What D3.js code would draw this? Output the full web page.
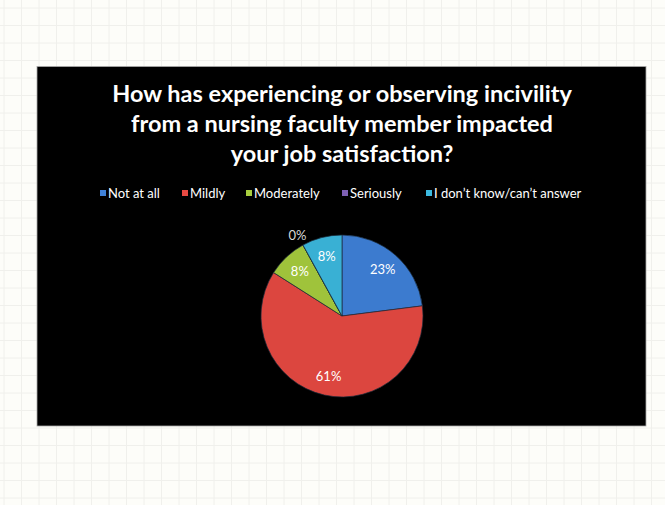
<!DOCTYPE html>
<html><head><meta charset="utf-8">
<script src="https://cdn.jsdelivr.net/npm/d3@7"></script>
<style>html,body{margin:0;padding:0;background:#fdfdf9;}svg{display:block;}</style>
</head><body>
<script>
const categories = ["Not at all", "Mildly", "Moderately", "Seriously", "I don\u2019t know/can\u2019t answer"];
const values = [23, 61, 8, 0, 8];
const valueLabels = ["23%", "61%", "8%", "0%", "8%"];
const colors = ["#3f82da", "#e84a42", "#a8ce3e", "#7e60b4", "#3cbae0"];
const titleLines = ["How has experiencing or observing incivility", "from a nursing faculty member impacted", "your job satisfaction?"];

const W = 665, H = 505;
const svg = d3.select("body").append("svg").attr("width", W).attr("height", H);

// grid paper background
const grid = svg.append("g");
d3.range(4, W, 17.5).forEach(x => grid.append("line").attr("x1", x).attr("x2", x).attr("y1", 0).attr("y2", H).attr("stroke", "#f0f0ec").attr("stroke-width", 1));
d3.range(8, H, 17.5).forEach(y => grid.append("line").attr("y1", y).attr("y2", y).attr("x1", 0).attr("x2", W).attr("stroke", "#f0f0ec").attr("stroke-width", 1));

// black slide
svg.append("rect").attr("x", 37).attr("y", 66.5).attr("width", 609).attr("height", 359.5)
  .attr("fill", "#000").attr("stroke", "#a8a8a8").attr("stroke-width", 0.8);

// title
const title = svg.append("text").attr("text-anchor", "middle").attr("fill", "#fff")
  .attr("font-family", "Lato, 'Open Sans', sans-serif").attr("font-weight", "bold").attr("font-size", 23.5);
titleLines.forEach((t, i) => title.append("tspan").attr("x", 342).attr("y", 102 + i * 30).text(t));

// legend
const legendX = [100, 182, 246, 342, 426];
const lg = svg.append("g").attr("font-family", "Lato, 'Open Sans', sans-serif").attr("font-size", 13).attr("fill", "#fff");
categories.forEach((c, i) => {
  lg.append("rect").attr("x", legendX[i]).attr("y", 190).attr("width", 6).attr("height", 6).attr("fill", colors[i]);
  lg.append("text").attr("x", legendX[i] + 8).attr("y", 197.5).text(c);
});

// pie
const cx = 342, cy = 316, r = 81;
const defs = svg.append("defs");
colors.forEach((col, i) => {
  const g = defs.append("radialGradient").attr("id", "g" + i).attr("gradientUnits", "userSpaceOnUse")
    .attr("cx", cx).attr("cy", cy - 25).attr("r", r * 1.2);
  g.append("stop").attr("offset", "0%").attr("stop-color", d3.color(col).brighter(0.1));
  g.append("stop").attr("offset", "88%").attr("stop-color", col);
  g.append("stop").attr("offset", "100%").attr("stop-color", d3.color(col).darker(0.15));
});
const pie = d3.pie().sort(null).value(d => d)(values);
const arc = d3.arc().innerRadius(0).outerRadius(r);
const pg = svg.append("g").attr("transform", `translate(${cx},${cy})`);
pg.selectAll("path").data(pie).join("path")
  .attr("d", arc).attr("fill", (d, i) => `url(#g${i})`)
  .attr("stroke", "#1a2a3a").attr("stroke-width", 0.7);

const labelArc = d3.arc().innerRadius(r * 0.76).outerRadius(r * 0.76);
const outArc = d3.arc().innerRadius(r * 1.14).outerRadius(r * 1.14);
pg.selectAll("text").data(pie).join("text")
  .attr("transform", (d, i) => `translate(${(values[i] === 0 ? outArc : labelArc).centroid(d)})`)
  .attr("text-anchor", "middle").attr("dy", "0.35em")
  .attr("font-family", "Lato, 'Open Sans', sans-serif").attr("font-size", 13)
  .attr("fill", (d, i) => values[i] === 0 ? "#d8d8d8" : "#fff")
  .text((d, i) => valueLabels[i]);
</script>
</body></html>
